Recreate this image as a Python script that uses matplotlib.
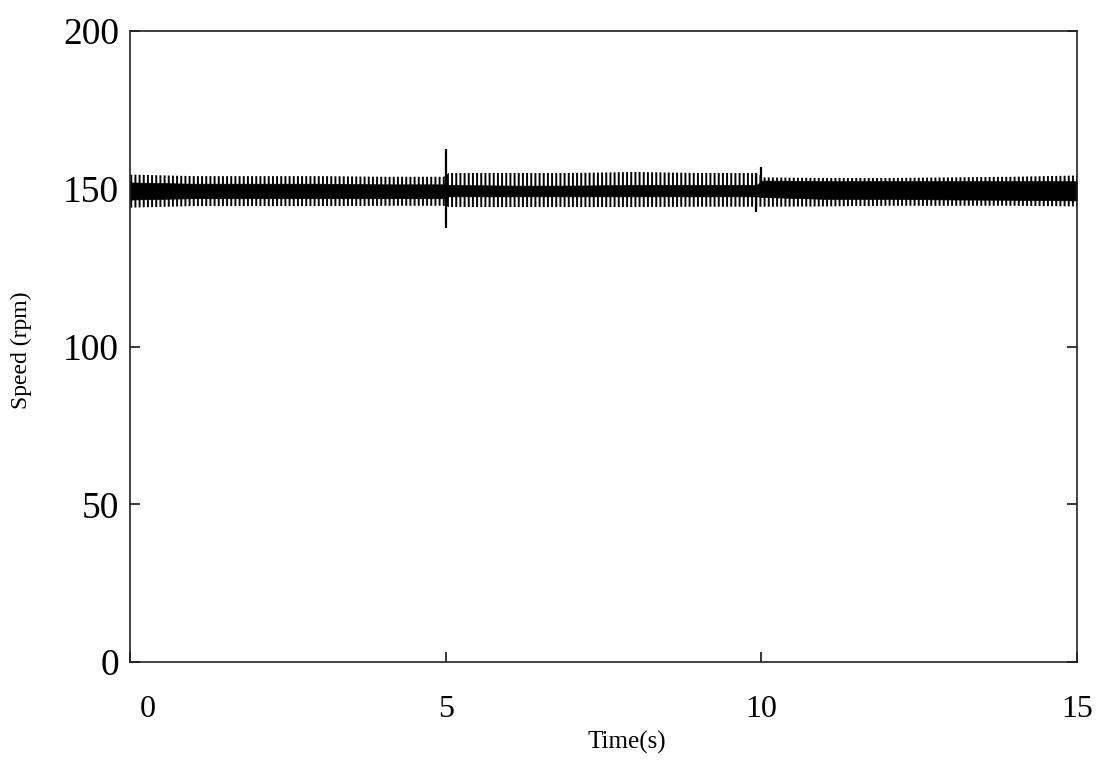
import matplotlib
matplotlib.use("Agg")
import matplotlib.pyplot as plt
import matplotlib.transforms as mtransforms

plt.rcParams['font.family'] = ['Liberation Serif', 'DejaVu Serif']
plt.rcParams['hatch.linewidth'] = 1.4

# Envelope of the speed signal (rpm)
env_t = [0.0, 1.0, 2.0, 3.0, 4.0, 4.97, 5.05, 6.0, 7.0, 8.0, 9.0, 9.92, 10.02, 11.0, 12.0, 13.0, 14.0, 15.0]
tip_hi = [154.5, 154.0, 154.0, 154.0, 153.8, 153.8, 155.0, 155.0, 155.0, 155.3, 155.0, 155.0, 153.6, 153.4, 153.4, 153.6, 153.8, 154.2]
tip_lo = [144.0, 144.5, 144.5, 144.5, 144.6, 144.6, 144.2, 144.2, 144.2, 144.2, 144.3, 144.3, 144.3, 144.4, 144.6, 144.6, 144.6, 144.4]
core_hi = [152.0, 151.6, 151.6, 151.6, 151.4, 151.4, 151.2, 151.0, 151.0, 151.2, 151.2, 151.2, 152.6, 152.4, 152.4, 152.4, 152.4, 152.4]
core_lo = [146.6, 147.0, 147.0, 147.0, 147.0, 147.0, 147.6, 147.6, 147.6, 147.6, 147.6, 147.6, 147.4, 146.8, 146.8, 146.6, 146.5, 146.3]

# Transient spikes at the load changes
spike_t = [5.01, 9.92, 10.0]
spike_lo = [137.6, 142.5, 147.5]
spike_hi = [162.6, 155.0, 156.9]

x_ticks = [0, 5, 10, 15]
y_ticks = [0, 50, 100, 150, 200]

fig = plt.figure(figsize=(11.12, 7.70), dpi=100)
ax = fig.add_axes([130/1112, 1-662/770, (1077-130)/1112, (662-31)/770])

ax.fill_between(env_t, tip_lo, tip_hi, facecolor='none', edgecolor='black',
                hatch='||||', linewidth=0)
ax.fill_between(env_t, core_lo, core_hi, facecolor='black', edgecolor='black', linewidth=0.5)
ax.vlines(spike_t, spike_lo, spike_hi, color='black', linewidth=1.6)

ax.set_xlim(0, 15)
ax.set_ylim(0, 200)
ax.set_xticks(x_ticks)
ax.set_yticks(y_ticks)
ax.tick_params(axis='y', direction='in', length=7, width=1.1, labelsize=27, pad=8,
               right=True, left=True)
ax.tick_params(axis='x', direction='in', length=7, width=1.1, labelsize=23, pad=24,
               top=False)
for s in ax.spines.values():
    s.set_linewidth(1.2)
    s.set_color('#222222')

# shift the "0" x label to the right as in the reference
lbl0 = ax.get_xticklabels()[0]
lbl0.set_transform(lbl0.get_transform() + mtransforms.ScaledTranslation(18/100, 0, fig.dpi_scale_trans))

fig.text(627/1112, 1-742/770, 'Time(s)', ha='center', va='center', fontsize=18)
fig.text(21/1112, 1-350/770, 'Speed (rpm)', ha='center', va='center', fontsize=17, rotation=90)

fig.savefig('out.png', dpi=100)
